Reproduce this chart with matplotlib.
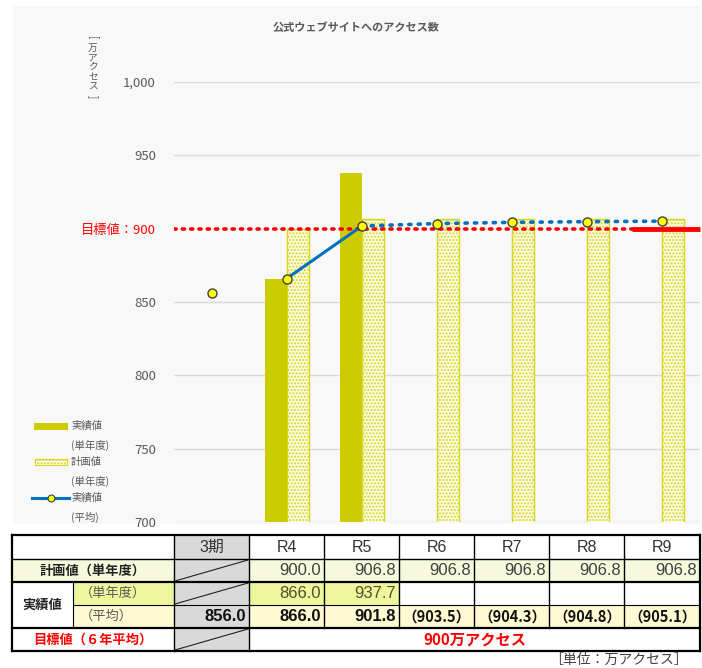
#!/usr/bin/env python3
"""
公式ウェブサイトへのアクセス数: bar + line chart with a summary table below.
"""

import numpy as np
import matplotlib
matplotlib.use("Agg")
import matplotlib.pyplot as plt
from matplotlib.patches import Rectangle
from matplotlib.lines import Line2D

plt.rcParams['font.family'] = ['Noto Sans CJK JP', 'DejaVu Sans']
plt.rcParams['hatch.color'] = '#e4e43a'

# data
categories = ['3期', 'R4', 'R5', 'R6', 'R7', 'R8', 'R9']
plan_values = [np.nan, 900.0, 906.8, 906.8, 906.8, 906.8, 906.8]
actual_values = [np.nan, 866.0, 937.7, np.nan, np.nan, np.nan, np.nan]
average_values = [856.0, 866.0, 901.8, 903.5, 904.3, 904.8, 905.1]
n_measured = 3          # averages up to R5 are measured, the rest are projections
target_value = 900
y_ticks = [700, 750, 800, 850, 900, 950, 1000]

W, H = 702, 668
GRAY_TXT = '#595959'
OLIVE = '#cccc00'
BLUE = '#0070c0'
RED = '#ff0000'


def fx(x):
    return x / W


def fy(y):
    return 1 - y / H


fig = plt.figure(figsize=(W / 100, H / 100), dpi=100)

# chart background panel
fig.patches.append(Rectangle((fx(13), fy(524)), fx(700) - fx(13), fy(6) - fy(524),
                             transform=fig.transFigure, facecolor='#f8f8f8',
                             edgecolor='none', zorder=-10))

ax = fig.add_axes([fx(174), fy(522), fx(700) - fx(174), fy(82) - fy(522)])
ax.set_zorder(5)
ax.set_facecolor('none')
x = np.arange(len(categories))
ax.set_xlim(-0.5, len(categories) - 0.5)
ax.set_ylim(700, 1000)

for t in y_ticks:
    if t != target_value:
        ax.axhline(t, color='#d9d9d9', lw=1, zorder=1)

bw = 0.29
ax.bar(x - bw / 2, actual_values, width=bw, color=OLIVE,
       edgecolor='none', zorder=2)
ax.bar(x + bw / 2, plan_values, width=bw, color='#fbfbe6', edgecolor='#d6d61a',
       hatch='.....', lw=1.0, zorder=2)
ax.set_ylim(700, 1000)

# target line: dotted through R8, solid for the final year
ax.plot([-0.5, 5.6], [target_value, target_value], color=RED, lw=2.6,
        ls=(0, (0.6, 1.7)), dash_capstyle='round', zorder=3)
ax.plot([5.6, 6.5], [target_value, target_value], color=RED, lw=3.5,
        solid_capstyle='butt', zorder=3, clip_on=False)

# average line: solid for measured years, dotted for projections
ax.plot(x[1:n_measured], average_values[1:n_measured], color=BLUE, lw=2.2, zorder=4)
ax.plot(x[n_measured - 1:], average_values[n_measured - 1:], color=BLUE, lw=2.6,
        ls=(0, (0.6, 2.0)), dash_capstyle='round', zorder=4)
ax.plot(x, average_values, ls='none', marker='o', ms=6.5, mfc='#ffff00',
        mec='#404040', mew=1.0, zorder=5)

ax.set_yticks(y_ticks)
ax.set_yticklabels(['700', '750', '800', '850', '目標値：900', '950', '1,000'])
for lab, t in zip(ax.get_yticklabels(), y_ticks):
    lab.set_fontsize(9.5)
    lab.set_color(RED if t == target_value else GRAY_TXT)
ax.tick_params(axis='y', length=0, pad=13)
ax.set_xticks([])
for s in ax.spines.values():
    s.set_visible(False)

# title and vertical unit label
fig.text(fx(356), fy(27), '公式ウェブサイトへのアクセス数', ha='center', va='center',
         fontsize=8, fontweight='bold', color=GRAY_TXT)
unit_chars = ['[', '万', 'ア', 'ク', 'セ', 'ス', ']']
for i, ch in enumerate(unit_chars):
    rot = -90 if ch in '[]' else 0
    fig.text(fx(93), fy(38 + i * 9.8), ch, ha='center', va='center',
             fontsize=7, color=GRAY_TXT, rotation=rot)

# legend
legend_rows = [('bar', '実績値', '(単年度)', 426),
               ('plan', '計画値', '(単年度)', 462),
               ('line', '実績値', '(平均)', 498)]
for kind, l1, l2, yy in legend_rows:
    if kind == 'bar':
        fig.patches.append(Rectangle((fx(34), fy(430)), fx(34), fy(423) - fy(430),
                                     transform=fig.transFigure, facecolor=OLIVE,
                                     edgecolor='none'))
    elif kind == 'plan':
        fig.patches.append(Rectangle((fx(35), fy(465)), fx(32), fy(459) - fy(465),
                                     transform=fig.transFigure, facecolor='#fbfbe6',
                                     edgecolor='#d6d61a', hatch='.....', lw=0.8))
    else:
        fig.lines.append(Line2D([fx(32), fx(69)], [fy(yy), fy(yy)],
                                transform=fig.transFigure, color=BLUE, lw=2.2))
        fig.lines.append(Line2D([fx(50.5)], [fy(yy)], transform=fig.transFigure,
                                marker='o', ms=5, mfc='#ffff00', mec='#404040',
                                mew=0.8, ls='none'))
    fig.text(fx(71), fy(yy), l1, ha='left', va='center', fontsize=7.5, color=GRAY_TXT)
    fig.text(fx(71), fy(yy + 19), l2, ha='left', va='center', fontsize=7.5, color=GRAY_TXT)

# ---- table ----
col_edges = [174, 249, 324, 399, 474, 549, 624, 700]
row_edges = [535, 559, 582, 605, 628, 651]
left, mid = 12, 73


def cell(x0, x1, y0, y1, color):
    fig.patches.append(Rectangle((fx(x0), fy(y1)), fx(x1) - fx(x0), fy(y0) - fy(y1),
                                 transform=fig.transFigure, facecolor=color,
                                 edgecolor='none', zorder=1))


def hline(x0, x1, y, lw):
    fig.lines.append(Line2D([fx(x0), fx(x1)], [fy(y), fy(y)],
                            transform=fig.transFigure, color='black', lw=lw, zorder=3))


def vline(x, y0, y1, lw):
    fig.lines.append(Line2D([fx(x), fx(x)], [fy(y0), fy(y1)],
                            transform=fig.transFigure, color='black', lw=lw, zorder=3))


PLAN_BG = '#f6f9dc'
SINGLE_BG = '#eef79c'
AVG_BG = '#fffad2'
GRAY_BG = '#d9d9d9'

r0, r1, r2, r3, r4, r5 = row_edges
cell(left, 700, r0, r5, 'white')
cell(left, col_edges[0], r1, r2, PLAN_BG)
cell(mid, col_edges[0], r2, r3, SINGLE_BG)
cell(mid, col_edges[0], r3, r4, AVG_BG)
for i in range(len(categories)):
    c0, c1 = col_edges[i], col_edges[i + 1]
    if i == 0:
        cell(c0, c1, r0, r5, GRAY_BG)
        for ya, yb in [(r1, r2), (r2, r3), (r4, r5)]:
            fig.lines.append(Line2D([fx(c0 + 1), fx(c1 - 1)], [fy(yb - 1), fy(ya + 1)],
                                    transform=fig.transFigure, color='#222222',
                                    lw=0.8, zorder=2))
        continue
    cell(c0, c1, r1, r2, PLAN_BG)
    if not np.isnan(actual_values[i]):
        cell(c0, c1, r2, r3, SINGLE_BG)
    cell(c0, c1, r3, r4, AVG_BG)

# grid lines
hline(left, 700, r0, 1.6)
hline(left, 700, r1, 1.0)
hline(left, 700, r2, 1.6)
hline(mid, 700, r3, 0.8)
hline(left, 700, r4, 1.6)
hline(left, 700, r5, 1.6)
vline(left, r0, r5, 1.6)
vline(700, r0, r5, 1.6)
vline(mid, r2, r4, 0.8)
for c in col_edges[:-1]:
    if c == col_edges[0]:
        vline(c, r0, r5, 1.0)
    else:
        vline(c, r0, r4, 1.0)
vline(col_edges[1], r4, r5, 1.0)


def ymid(a, b):
    return fy((a + b) / 2)


# header
for i, name in enumerate(categories):
    fig.text(fx((col_edges[i] + col_edges[i + 1]) / 2), ymid(r0, r1), name,
             ha='center', va='center', fontsize=11.5, color='#333333',
             family=['Liberation Sans', 'Noto Sans CJK JP'])

fig.text(fx((left + col_edges[0]) / 2), ymid(r1, r2), '計画値（単年度）',
         ha='center', va='center', fontsize=9.5, fontweight='bold', color='#222222')
fig.text(fx((left + mid) / 2), ymid(r2, r4), '実績値',
         ha='center', va='center', fontsize=9.5, fontweight='bold', color='#222222')
fig.text(fx(80), ymid(r2, r3), '（単年度）', ha='left', va='center',
         fontsize=9.5, color=GRAY_TXT)
fig.text(fx(80), ymid(r3, r4), '（平均）', ha='left', va='center',
         fontsize=9.5, color=GRAY_TXT)
fig.text(fx((left + col_edges[0]) / 2), ymid(r4, r5), '目標値（６年平均）',
         ha='center', va='center', fontsize=9.5, fontweight='bold', color=RED)

for i in range(len(categories)):
    xr = fx(col_edges[i + 1] - 3)
    if not np.isnan(plan_values[i]):
        fig.text(xr, ymid(r1, r2), f'{plan_values[i]:.1f}', ha='right', va='center',
                 fontsize=12, color='#404040', family='Liberation Sans')
    if not np.isnan(actual_values[i]):
        fig.text(xr, ymid(r2, r3), f'{actual_values[i]:.1f}', ha='right', va='center',
                 fontsize=12, color='#505030', family='Liberation Sans')
    if i < n_measured:
        fig.text(xr, ymid(r3, r4), f'{average_values[i]:.1f}', ha='right', va='center',
                 fontsize=12, fontweight='bold', color='#111111',
                 family='Liberation Sans')
    else:
        fig.text(xr, ymid(r3, r4), f'（{average_values[i]:.1f}）', ha='right',
                 va='center', fontsize=10.5, fontweight='bold', color='#111111',
                 family=['Noto Sans CJK JP', 'DejaVu Sans'])

fig.text(fx((col_edges[1] + 700) / 2), ymid(r4, r5), f'{target_value}万アクセス',
         ha='center', va='center', fontsize=11, fontweight='bold', color=RED)

fig.text(fx(688), fy(660), '［単位：万アクセス］', ha='right', va='center',
         fontsize=10, color='#404040')

fig.savefig('out.png', dpi=100)
